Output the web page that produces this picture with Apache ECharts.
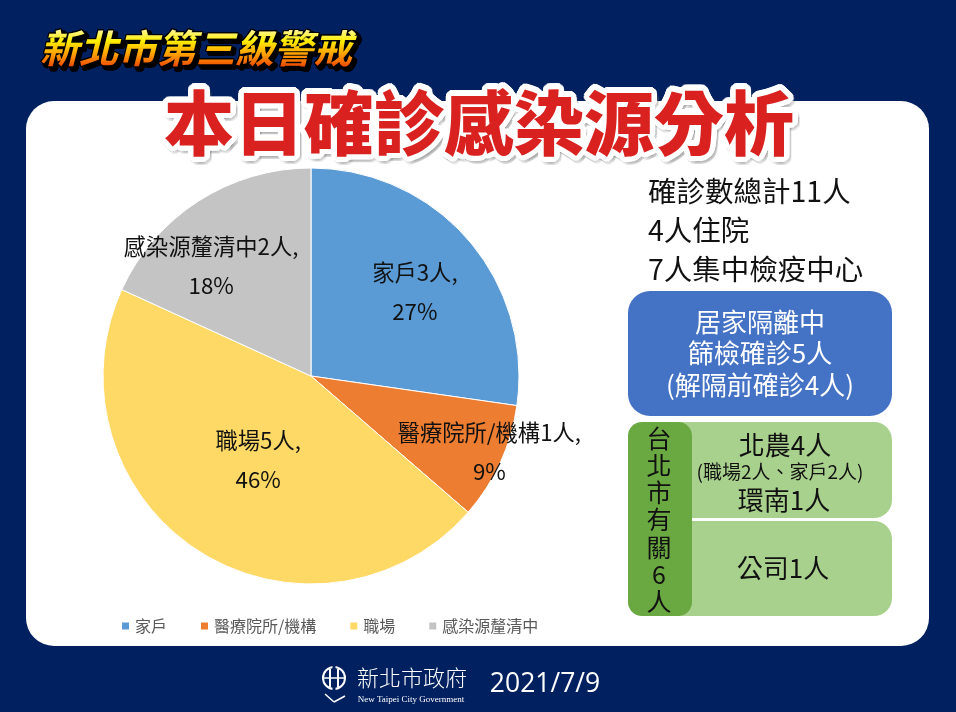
<!DOCTYPE html>
<html>
<head>
<meta charset="utf-8">
<style>
  html, body { margin: 0; padding: 0; background: #00205f; }
  #chart { width: 956px; height: 712px; }
</style>
<script src="https://cdn.jsdelivr.net/npm/echarts@6/dist/echarts.min.js"></script>
</head>
<body>
<div id="chart"></div>
<script>
const categories = ['家戶', '醫療院所/機構', '職場', '感染源釐清中'];
const cases = [3, 1, 5, 2];
const colors = ['#5b9bd5', '#ed7d31', '#ffd966', '#c4c4c4'];
// how far each pie label sits from its default inside spot
const labelShift = [[23, -14], [81, 32], [5, -6], [-42, -20]];

const FONT = '"Noto Sans CJK TC", sans-serif';
const myChart = echarts.init(document.getElementById('chart'));

// short helpers for the panels around the pie
const box = (x, y, width, height, r, fill) => ({
  type: 'rect', shape: { x, y, width, height, r }, style: { fill }, silent: true
});
const text = (x, y, str, size, fill, extra) => ({
  type: 'text', x, y, silent: true,
  style: Object.assign({
    text: str, fontFamily: FONT, fontSize: size, fill: fill || '#111',
    align: 'center', verticalAlign: 'middle'
  }, extra)
});
// canvas text has no usable outline here, so ring it with copies
const ring = (x, y, radius, str, size, fill, extra) => {
  const out = [];
  for (let a = 0; a < 24; a++) {
    const t = a / 24 * Math.PI * 2;
    out.push(text(x + Math.cos(t) * radius, y + Math.sin(t) * radius, str, size, fill, extra));
  }
  return out;
};

const MAIN_TITLE = '本日確診感染源分析';
const SUB_TITLE = '新北市第三級警戒';
const heavy = { fontWeight: 900 };
const slanted = { fontWeight: 700, fontStyle: 'italic' };

const option = {
  backgroundColor: '#00205f',
  animation: false,
  color: colors,
  legend: {
    left: 115,
    top: 613,
    itemWidth: 9,
    itemHeight: 9,
    itemGap: 32,
    icon: 'rect',
    data: categories,
    textStyle: { fontFamily: FONT, fontSize: 16, color: '#595959' }
  },
  graphic: [
    box(26, 101, 903, 545, 28, '#fff'),
    box(628, 291, 264, 125, 22, '#4472c4'),
    box(628, 422, 264, 96, 18, '#a9d18e'),
    box(628, 521, 264, 95, 18, '#a9d18e'),
    box(628, 422, 64, 194, 14, '#6aa842'),

    text(648, 191, '確診數總計11人', 28.5, '#111', { align: 'left' }),
    text(648, 230, '4人住院', 28.5, '#111', { align: 'left' }),
    text(648, 269, '7人集中檢疫中心', 28.5, '#111', { align: 'left' }),

    text(760, 322, '居家隔離中', 26, '#fff'),
    text(760, 353, '篩檢確診5人', 26, '#fff'),
    text(760, 385, '(解隔前確診4人)', 26, '#fff'),

    text(785, 445, '北農4人', 26, '#111'),
    text(780, 472, '(職場2人、家戶2人)', 19, '#111'),
    text(784, 500, '環南1人', 26, '#111'),
    text(783, 568, '公司1人', 26, '#111'),

    text(659, 438, '台', 25, '#111'),
    text(659, 465, '北', 25, '#111'),
    text(659, 492, '市', 25, '#111'),
    text(659, 519, '有', 25, '#111'),
    text(659, 547, '關', 25, '#111'),
    text(659, 574, '6', 25, '#111'),
    text(659, 601, '人', 25, '#111'),

    ...ring(481, 126, 5.5, MAIN_TITLE, 70, 'rgba(120,120,120,0.1)', heavy),
    ...ring(479, 123, 5.5, MAIN_TITLE, 70, '#fff', heavy),
    text(479, 123, MAIN_TITLE, 70, '#d9211f', heavy),

    ...ring(199, 51, 2, SUB_TITLE, 39, '#000', slanted),
    ...ring(196, 48, 1, SUB_TITLE, 39, '#000', slanted),

    // city logo, roughly
    {
      type: 'group', silent: true,
      children: [
        { type: 'circle', shape: { cx: 334, cy: 678, r: 11 }, style: { fill: 'none', stroke: '#fff', lineWidth: 2 } },
        { type: 'line', shape: { x1: 334, y1: 666, x2: 334, y2: 690 }, style: { stroke: '#00205f', lineWidth: 3 } },
        { type: 'line', shape: { x1: 330, y1: 669, x2: 330, y2: 687 }, style: { stroke: '#fff', lineWidth: 2 } },
        { type: 'line', shape: { x1: 338, y1: 669, x2: 338, y2: 687 }, style: { stroke: '#fff', lineWidth: 2 } },
        { type: 'line', shape: { x1: 324, y1: 678, x2: 344, y2: 678 }, style: { stroke: '#fff', lineWidth: 1.5 } },
        { type: 'line', shape: { x1: 334, y1: 702, x2: 345, y2: 696 }, style: { stroke: '#fff', lineWidth: 1.5 } },
        { type: 'line', shape: { x1: 334, y1: 702, x2: 325, y2: 694 }, style: { stroke: '#fff', lineWidth: 1.5 } }
      ]
    },
    text(412, 678, '新北市政府', 22, '#fff', { fontWeight: 300 }),
    text(411, 700, 'New Taipei City Government', 9, '#fff', { fontFamily: '"Liberation Serif", serif' }),
    text(545, 684, '2021/7/9', 26.5, '#fff', { fontFamily: '"Open Sans", sans-serif' })
  ],
  series: [
    {
      name: '感染源',
      type: 'pie',
      center: [311, 376],
      radius: 208,
      startAngle: 90,
      silent: true,
      percentPrecision: 0,
      data: categories.map((name, i) => ({ name, value: cases[i] })),
      itemStyle: { borderColor: '#fff', borderWidth: 1 },
      label: {
        position: 'inside',
        formatter: '{b}{c}人,\n{d}%',
        fontFamily: FONT,
        fontSize: 22.3,
        lineHeight: 39,
        color: '#111'
      },
      labelLine: { show: false },
      labelLayout: params => ({
        dx: labelShift[params.dataIndex][0],
        dy: labelShift[params.dataIndex][1]
      })
    }
  ]
};

myChart.setOption(option);

// yellow to red title fill: zrender text takes no gradient, so stack thin clipped copies
const titleStops = ['#fff8c0', '#ffee00', '#ff9a00', '#e83a00'];
const zr = myChart.getZr();
for (let i = 0; i < 22; i++) {
  const band = new echarts.graphic.Text({
    x: 196, y: 48, silent: true, z: 10,
    style: {
      text: SUB_TITLE, fontFamily: FONT, fontSize: 39, fontWeight: 700, fontStyle: 'italic',
      fill: echarts.color.lerp(i / 21, titleStops), align: 'center', verticalAlign: 'middle'
    }
  });
  band.setClipPath(new echarts.graphic.Rect({ shape: { x: -200, y: -22 + i * 2, width: 400, height: 2 } }));
  zr.add(band);
}
</script>
</body>
</html>
